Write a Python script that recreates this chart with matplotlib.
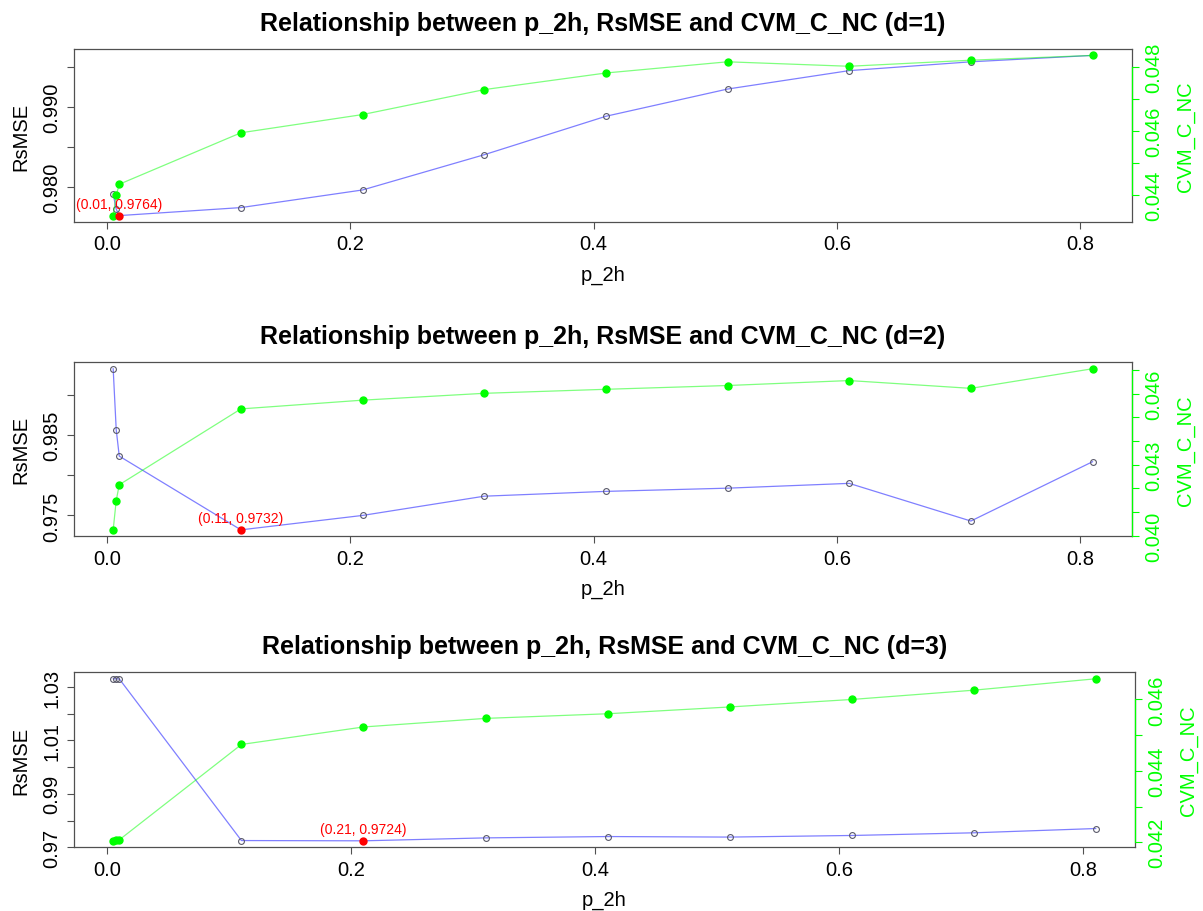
import numpy as np
import matplotlib
matplotlib.use("Agg")
from matplotlib import pyplot as plt

plt.rcParams['font.family'] = ['Liberation Sans', 'DejaVu Sans']

# p_2h values (shared by all three panels)
p_2h = [0.005, 0.0075, 0.01, 0.11, 0.21, 0.31, 0.41, 0.51, 0.61, 0.71, 0.81]

rsmse_d1 = [0.9791, 0.9772, 0.9764, 0.9774, 0.9796, 0.9840, 0.9888, 0.9922, 0.9945, 0.9956, 0.9964]
cvm_d1 = [0.04335, 0.04398, 0.04433, 0.04594, 0.04651, 0.04729, 0.04781, 0.04816, 0.04802, 0.04821, 0.04836]

rsmse_d2 = [0.9933, 0.9857, 0.9824, 0.9732, 0.9750, 0.9774, 0.9780, 0.9784, 0.9790, 0.9743, 0.9817]
cvm_d2 = [0.04024, 0.04148, 0.04215, 0.04536, 0.04573, 0.04602, 0.04619, 0.04635, 0.04656, 0.04623, 0.04706]

rsmse_d3 = [1.0331, 1.0331, 1.0330, 0.9725, 0.9724, 0.9735, 0.9740, 0.9738, 0.9744, 0.9754, 0.9770]
cvm_d3 = [0.04204, 0.04205, 0.04207, 0.04474, 0.04523, 0.04547, 0.04560, 0.04579, 0.04600, 0.04626, 0.04658]

d_values = [1, 2, 3]

# axis ticks (all ticks, then the ones R actually labelled)
x_ticks = [0.0, 0.2, 0.4, 0.6, 0.8]
left_ticks = [[0.980, 0.985, 0.990, 0.995],
              [0.975, 0.980, 0.985, 0.990],
              [0.97, 0.98, 0.99, 1.00, 1.01, 1.02, 1.03]]
left_labelled = [[0.980, 0.990], [0.975, 0.985], [0.97, 0.99, 1.01, 1.03]]
left_fmt = ["%.3f", "%.3f", "%.2f"]
right_ticks = [[0.044, 0.045, 0.046, 0.047, 0.048],
               [0.040, 0.041, 0.042, 0.043, 0.044, 0.045, 0.046, 0.047],
               [0.042, 0.043, 0.044, 0.045, 0.046]]
right_labelled = [[0.044, 0.046, 0.048], [0.040, 0.043, 0.046], [0.042, 0.044, 0.046]]

rsmse_all = [rsmse_d1, rsmse_d2, rsmse_d3]
cvm_all = [cvm_d1, cvm_d2, cvm_d3]

W, H = 1203, 912
fig = plt.figure(figsize=(W / 100, H / 100), dpi=100)

# panel boxes in pixels: left, right, top, bottom
boxes = [(74, 1131.7, 50, 223), (74, 1131.7, 363.3, 537.3), (74, 1135, 673.3, 848.3)]

GREEN = "#00ff00"
FRAME = "#505050"


def tick_labels(ticks, labelled, fmt):
    out = []
    for t in ticks:
        if any(abs(t - l) < 1e-9 for l in labelled):
            out.append(fmt % t)
        else:
            out.append("")
    return out


for i in range(3):
    l, r, t, b = boxes[i]
    ax = fig.add_axes([l / W, 1 - b / H, (r - l) / W, (b - t) / H])
    x = np.array(p_2h)
    y = np.array(rsmse_all[i])
    c = np.array(cvm_all[i])

    ax.plot(x, y, color=(0, 0, 1, 0.5), lw=0.9, zorder=2)
    ax.plot(x, y, ls="none", marker="o", ms=4.2, mfc="none", mec="#5a5a6a", mew=0.8, zorder=3)
    ax.margins(x=0.04, y=0.04)

    ax.set_xticks(x_ticks)
    ax.set_xticklabels(["%.1f" % v for v in x_ticks])
    ax.set_yticks(left_ticks[i])
    ax.set_yticklabels(tick_labels(left_ticks[i], left_labelled[i], left_fmt[i]),
                       rotation=90, va="center")
    ax.tick_params(axis="both", direction="out", length=5, width=0.8, color=FRAME,
                   labelsize=14.5, pad=4)
    for s in ax.spines.values():
        s.set_color(FRAME)
        s.set_linewidth(0.9)
    ax.set_xlabel("p_2h", fontsize=14.5, labelpad=8)
    ax.set_ylabel("RsMSE", fontsize=14.5, labelpad=9)
    ax.set_title("Relationship between p_2h, RsMSE and CVM_C_NC (d=%d)" % d_values[i],
                 fontsize=18, fontweight="bold", pad=14)

    ax2 = ax.twinx()
    ax2.plot(x, c, color=(0, 1, 0, 0.5), lw=0.9, zorder=2)
    ax2.plot(x, c, ls="none", marker="o", ms=5, mfc=GREEN, mec=GREEN, zorder=3)
    ax2.margins(x=0.04, y=0.04)
    ax2.autoscale_view()
    ax2.set_autoscale_on(False)
    ax2.set_yticks(right_ticks[i])
    ax2.set_yticklabels(tick_labels(right_ticks[i], right_labelled[i], "%.3f"),
                        rotation=90, va="center")
    ax2.tick_params(axis="y", direction="out", length=5, width=0.8, color=GREEN,
                    labelcolor=GREEN, labelsize=14.5, pad=4)
    for name, s in ax2.spines.items():
        s.set_visible(name == "right")
    ax2.spines["right"].set_color(GREEN)
    ax2.spines["right"].set_linewidth(0.9)
    ax2.spines["right"].set_bounds(right_ticks[i][0], right_ticks[i][-1])
    ax2.set_ylabel("CVM_C_NC", fontsize=14.5, color=GREEN, labelpad=9)

    # minimum RsMSE point, drawn on top
    k = int(np.argmin(y))
    ax2.plot([x[k]], [y[k]], ls="none", marker="o", ms=5, mfc="red", mec="red",
             transform=ax.transData, zorder=4)
    ax2.annotate("(%.2f, %.4f)" % (x[k], y[k]), xy=(x[k], y[k]), xycoords=ax.transData,
                 xytext=(0, 8.5), textcoords="offset points", ha="center", va="center",
                 color="red", fontsize=10, zorder=5)

fig.savefig("out.png", dpi=100)
